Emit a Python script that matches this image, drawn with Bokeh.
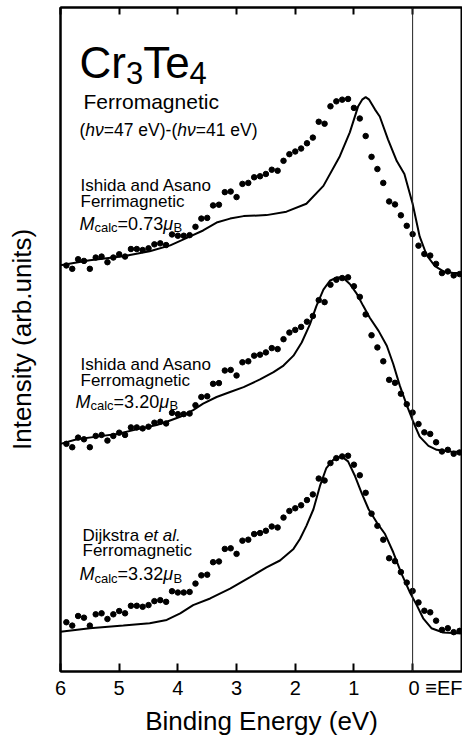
from bokeh.plotting import figure
from bokeh.models import Label, Span, FixedTicker, LinearAxis, Range1d
from bokeh.embed import file_html
from bokeh.resources import INLINE

# ---------------- data ----------------
# experimental difference spectrum (same data drawn in all three panels)
exp_energy = [5.9, 5.8, 5.7, 5.6, 5.5, 5.4, 5.3, 5.2, 5.1, 5.0,
              4.9, 4.8, 4.7, 4.6, 4.5, 4.4, 4.3, 4.2, 4.1, 4.0,
              3.9, 3.8, 3.7, 3.6, 3.5, 3.4, 3.3, 3.2, 3.1, 3.0,
              2.9, 2.8, 2.7, 2.6, 2.5, 2.4, 2.3, 2.2, 2.1, 2.0,
              1.9, 1.8, 1.7, 1.6, 1.5, 1.4, 1.3, 1.2, 1.1, 1.0,
              0.9, 0.8, 0.7, 0.6, 0.5, 0.4, 0.3, 0.2, 0.1, 0.0,
              -0.1, -0.2, -0.3, -0.4, -0.5, -0.6, -0.7, -0.8, -0.9]
exp_intensity = [49.7, 46.3, 56, 54.3, 46.3, 57.7, 58.7, 53, 57.7, 61,
                 58.7, 66.3, 66.3, 65.3, 67, 71, 72, 70.3, 81, 79.7,
                 79.7, 80.3, 88.7, 97, 97.7, 110.3, 111, 123.7, 124.3, 118.7,
                 132, 133, 138.7, 139.7, 142, 146.3, 145.3, 155.3, 162, 164.7,
                 167.7, 173, 178.7, 194.7, 192.7, 210.3, 215.3, 217, 217.7, 208.7,
                 198, 180.3, 159.3, 147, 133, 114.3, 111.3, 100.3, 89.7, 81.3,
                 69.7, 61.3, 59.7, 51.3, 42, 43.7, 39.7, 41, 37]

# calculation: Ishida and Asano, ferrimagnetic (top)
ferri_energy = [6.0, 5.5, 4.93, 4.48, 4.13, 3.79, 3.57, 3.34, 3.11, 2.88, 2.49, 2.15,
                1.81, 1.52, 1.24, 1.07, 0.93, 0.86, 0.80, 0.74, 0.64, 0.56, 0.42, 0.27,
                0.14, 0.0, -0.12, -0.24, -0.38, -0.52, -0.69, -0.91]
ferri_intensity = [50, 55, 59, 64, 70, 79, 85, 93, 97, 99.5, 100.5, 104,
                   112, 130, 160, 184, 210, 217, 219.5, 217, 207, 200, 177, 155,
                   142, 112, 79, 60, 49, 44, 42, 42]

# calculation: Ishida and Asano, ferromagnetic (middle)
ferro_ia_energy = [6.0, 5.72, 5.38, 5.04, 4.70, 4.36, 4.19, 3.96, 3.74, 3.57, 3.34, 3.11,
                   2.88, 2.60, 2.37, 2.20, 2.03, 1.89, 1.75, 1.64, 1.52, 1.41, 1.29, 1.18,
                   1.07, 0.95, 0.84, 0.73, 0.58, 0.44, 0.33, 0.22, 0.10, -0.01, -0.12,
                   -0.27, -0.41, -0.64, -0.91]
ferro_ia_intensity = [49.7, 54.3, 57, 59.7, 64.3, 68.7, 72, 77, 83.7, 90.3, 97, 102,
                      107, 114.7, 122, 128.7, 138.7, 152, 170.3, 188.7, 205.3, 214.3, 217.7, 217,
                      211, 201, 188.7, 177, 163.7, 148.7, 130.3, 108.7, 88.7, 72, 57,
                      47.7, 43.7, 42, 41.3]

# calculation: Dijkstra et al., ferromagnetic (bottom)
dijk_energy = [6.0, 5.5, 4.93, 4.48, 4.19, 3.96, 3.74, 3.45, 3.11, 2.77, 2.49, 2.26,
               2.03, 1.92, 1.81, 1.69, 1.58, 1.47, 1.35, 1.21, 1.10, 0.98, 0.87, 0.75,
               0.61, 0.47, 0.33, 0.19, 0.05, -0.07, -0.18, -0.32, -0.52, -0.91]
dijk_intensity = [40.2, 43.7, 46.3, 48.7, 52, 58.7, 67, 73.7, 83.7, 95.3, 105, 112,
                  123.7, 133.7, 147, 163.7, 187, 205.3, 213.7, 217, 212, 197, 180.3, 163.7,
                  150.3, 138.7, 120.3, 98.7, 80.3, 67, 53.7, 43.7, 39.3, 38]

panel_offsets = [360, 180, 0]   # top, middle, bottom (arb. units)
x_ticks = [6, 5, 4, 3, 2, 1, 0]
x_tick_labels = ["6", "5", "4", "3", "2", "1", "0"]
fermi_label = "≡EF"

# ---------------- figure ----------------
FONT = "Liberation Sans"
X0, X1 = 6.0, -0.85
Y0, Y1 = 0, 670
FRAME_LEFT, FRAME_RIGHT, FRAME_TOP, FRAME_BOTTOM = 60, 462, 7, 677

p = figure(width=462, height=738, x_range=Range1d(X0, X1), y_range=Range1d(Y0, Y1),
           output_backend="svg", toolbar_location=None,
           x_axis_type=None, y_axis_type=None)
p.min_border_left = FRAME_LEFT
p.min_border_right = 0
p.min_border_top = FRAME_TOP
p.min_border_bottom = 738 - FRAME_BOTTOM
p.outline_line_color = "black"
p.outline_line_width = 2
p.background_fill_color = "white"
p.border_fill_color = "white"

# tick label for 0 also carries the "≡EF" note (the label is kept inside the canvas,
# so its right end sits on the canvas edge and the 0 lands on its tick)
NB = "\u00a0"
overrides = {t: s for t, s in zip(x_ticks, x_tick_labels)}
overrides[0] = NB * 13 + "0" + NB + fermi_label

xb = LinearAxis(ticker=FixedTicker(ticks=x_ticks), axis_label="Binding Energy (eV)",
                major_label_overrides=overrides)
xb.axis_line_color = "black"
xb.axis_line_width = 2
xb.major_tick_in = 8
xb.major_tick_out = 0
xb.major_tick_line_width = 2
xb.minor_tick_line_color = None
xb.major_label_standoff = 5
xb.major_label_text_font = FONT
xb.major_label_text_font_size = "20px"
xb.major_label_text_color = "black"
xb.axis_label_text_font = FONT
xb.axis_label_text_font_size = "26px"
xb.axis_label_text_font_style = "normal"
xb.axis_label_text_color = "black"
xb.axis_label_standoff = 4
p.add_layout(xb, "below")

xt = LinearAxis(ticker=FixedTicker(ticks=x_ticks),
                major_label_overrides={t: "" for t in x_ticks})
xt.axis_line_color = "black"
xt.axis_line_width = 2
xt.major_tick_in = 7
xt.major_tick_out = 0
xt.major_tick_line_width = 2
xt.minor_tick_line_color = None
xt.major_label_text_font_size = "10px"
xt.major_label_standoff = 0
p.add_layout(xt, "above")

yl = LinearAxis(ticker=FixedTicker(ticks=[]), axis_label="Intensity (arb.units)")
yl.axis_line_color = "black"
yl.axis_line_width = 2
yl.major_tick_line_color = None
yl.minor_tick_line_color = None
yl.axis_label_text_font = FONT
yl.axis_label_text_font_size = "26px"
yl.axis_label_text_font_style = "normal"
yl.axis_label_text_color = "black"
yl.axis_label_standoff = 24
p.add_layout(yl, "left")

# Fermi level marker
p.add_layout(Span(location=0, dimension="height", line_color="#222222", line_width=1))

# curves and points
calcs = [(ferri_energy, ferri_intensity), (ferro_ia_energy, ferro_ia_intensity),
         (dijk_energy, dijk_intensity)]
for (ce, ci), off in zip(calcs, panel_offsets):
    p.line(ce, [v + off for v in ci], line_color="black", line_width=2)
    p.scatter(exp_energy, [v + off for v in exp_intensity], marker="circle",
              size=5.5, fill_color="black", line_color="black")

# ---------------- texts ----------------
W = {' ': 278, '(': 333, ')': 333, '-': 333, '.': 278, '=': 584, '≡': 584,
     'A': 667, 'B': 667, 'C': 722, 'D': 722, 'E': 667, 'F': 611, 'I': 278, 'M': 833,
     'T': 611, 'V': 667, 'a': 556, 'c': 500, 'd': 556, 'e': 556, 'g': 556, 'h': 556,
     'i': 222, 'j': 222, 'k': 500, 'l': 222, 'm': 833, 'n': 556, 'o': 556, 'r': 333,
     's': 500, 't': 278, 'μ': 577, 'ν': 500}
KERN = {"Te": -111}


def run_width(text, size):
    w = sum(W.get(c, 556) for c in text)
    w += sum(KERN.get(text[i:i + 2], 0) for i in range(len(text) - 1))
    return w * size / 1000.0


def px_to_x(px):
    return X0 + (px - FRAME_LEFT) * (X1 - X0) / (FRAME_RIGHT - FRAME_LEFT)


def py_to_y(py):
    return Y0 + (FRAME_BOTTOM - py) * (Y1 - Y0) / (FRAME_BOTTOM - FRAME_TOP)


def rich(px, py, runs):
    for text, size, style, dy in runs:
        p.add_layout(Label(x=px_to_x(px), y=py_to_y(py + dy), text=text,
                           text_font=FONT, text_font_size=f"{size}px",
                           text_font_style=style, text_color="black",
                           text_align="left", text_baseline="alphabetic"))
        px += run_width(text, size)


N, I = "normal", "italic"
DX = -3

rich(82 + DX, 63, [("Cr", 44, N, 0), ("3", 31, N, 10), ("Te", 44, N, 0), ("4", 31, N, 10)])
rich(86 + DX, 102, [("Ferromagnetic", 21, N, 0)])
rich(82 + DX, 131, [("(", 17.5, N, 0), ("hν", 17.5, I, 0), ("=47 eV)-(", 17.5, N, 0),
                    ("hν", 17.5, I, 0), ("=41 eV)", 17.5, N, 0)])


def mcalc(px, py, val):
    rich(px, py, [("M", 18, I, 0), ("calc", 13, N, 4), ("=" + val, 18, N, 0),
                  ("μ", 18, I, 0), ("B", 13, N, 4)])


rich(83 + DX, 187, [("Ishida and Asano", 17, N, 0)])
rich(83 + DX, 203, [("Ferrimagnetic", 17, N, 0)])
mcalc(82 + DX, 225, "0.73")

rich(83 + DX, 367, [("Ishida and Asano", 17, N, 0)])
rich(83 + DX, 383, [("Ferromagnetic", 17, N, 0)])
mcalc(78 + DX, 405, "3.20")

rich(85 + DX, 540, [("Dijkstra ", 17, N, 0), ("et al.", 17, I, 0)])
rich(85 + DX, 555, [("Ferromagnetic", 17, N, 0)])
mcalc(82 + DX, 579, "3.32")

open("out.html", "w").write(file_html(p, INLINE))
